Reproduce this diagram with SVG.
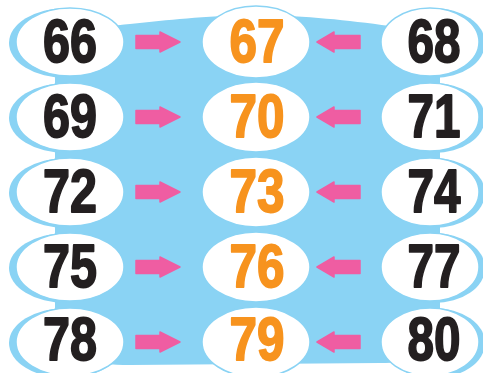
<svg xmlns="http://www.w3.org/2000/svg" width="483" height="373" viewBox="0 0 483 373">
<style>
.bg{fill:#8ad3f4}
.sh{fill:#8ad3f4}
.el{fill:#ffffff;stroke:#8ad3f4;stroke-width:1.5}
.n{font-family:"Liberation Sans",Arial,sans-serif;font-weight:bold;font-size:61px;text-anchor:middle;stroke-width:1.8;stroke-linejoin:round}
.k{fill:#231f20;stroke:#231f20}
.o{fill:#f7931e;stroke:#f7931e}
.ar{fill:#ef5da2;stroke:#ef5da2;stroke-width:1.5;stroke-linejoin:round}
</style>
<defs>
<polygon id="ra" points="136,-6.5 160,-6.5 160,-10 180,0 160,10 160,6.5 136,6.5"/>
<polygon id="la" points="360,-6.5 334,-6.5 334,-10 317,0 334,10 334,6.5 360,6.5"/>
</defs>
<rect width="483" height="373" fill="#ffffff"/>
<path class="bg" d="M55 45 C55 30 100 27 130 24 C170 20 200 16 256 15 C310 16 345 20 390 26 C425 29 440 32 440 48 L440 348 C440 360 410 363 380 363 L130 365 C95 365 55 362 55 350 Z"/>
<g id="n66"><ellipse class="sh" cx="66" cy="43" rx="57" ry="35"/><ellipse class="el" cx="70" cy="42" rx="54" ry="34"/><text class="n k" x="70" y="62" textLength="54" lengthAdjust="spacingAndGlyphs">66</text></g>
<g id="n67"><ellipse class="el" cx="256" cy="42" rx="54" ry="36"/><text class="n o" x="257" y="62" textLength="55" lengthAdjust="spacingAndGlyphs">67</text></g>
<g id="n68"><ellipse class="sh" cx="434" cy="43" rx="51" ry="35"/><ellipse class="el" cx="430" cy="42" rx="49" ry="34"/><text class="n k" x="434" y="62" textLength="53" lengthAdjust="spacingAndGlyphs">68</text></g>
<g id="n69"><ellipse class="sh" cx="66" cy="118" rx="57" ry="35"/><ellipse class="el" cx="70" cy="117" rx="54" ry="34"/><text class="n k" x="70" y="137" textLength="54" lengthAdjust="spacingAndGlyphs">69</text></g>
<g id="n70"><ellipse class="el" cx="256" cy="117" rx="54" ry="35"/><text class="n o" x="257" y="137" textLength="55" lengthAdjust="spacingAndGlyphs">70</text></g>
<g id="n71"><ellipse class="sh" cx="434" cy="118" rx="51" ry="35"/><ellipse class="el" cx="430" cy="117" rx="49" ry="34"/><text class="n k" x="434" y="137" textLength="53" lengthAdjust="spacingAndGlyphs">71</text></g>
<g id="n72"><ellipse class="sh" cx="66" cy="193" rx="57" ry="35"/><ellipse class="el" cx="70" cy="192" rx="54" ry="34"/><text class="n k" x="70" y="212" textLength="54" lengthAdjust="spacingAndGlyphs">72</text></g>
<g id="n73"><ellipse class="el" cx="256" cy="192" rx="54" ry="35"/><text class="n o" x="257" y="212" textLength="55" lengthAdjust="spacingAndGlyphs">73</text></g>
<g id="n74"><ellipse class="sh" cx="434" cy="193" rx="51" ry="35"/><ellipse class="el" cx="430" cy="192" rx="49" ry="34"/><text class="n k" x="434" y="212" textLength="53" lengthAdjust="spacingAndGlyphs">74</text></g>
<g id="n75"><ellipse class="sh" cx="66" cy="268" rx="57" ry="35"/><ellipse class="el" cx="70" cy="267" rx="54" ry="34"/><text class="n k" x="70" y="287" textLength="54" lengthAdjust="spacingAndGlyphs">75</text></g>
<g id="n76"><ellipse class="el" cx="256" cy="267" rx="54" ry="35"/><text class="n o" x="257" y="287" textLength="55" lengthAdjust="spacingAndGlyphs">76</text></g>
<g id="n77"><ellipse class="sh" cx="434" cy="268" rx="51" ry="35"/><ellipse class="el" cx="430" cy="267" rx="49" ry="34"/><text class="n k" x="434" y="287" textLength="53" lengthAdjust="spacingAndGlyphs">77</text></g>
<g id="n78"><ellipse class="sh" cx="66" cy="343" rx="57" ry="35"/><ellipse class="el" cx="70" cy="342" rx="54" ry="34"/><text class="n k" x="70" y="360" textLength="54" lengthAdjust="spacingAndGlyphs">78</text></g>
<g id="n79"><ellipse class="el" cx="256" cy="342" rx="54" ry="35"/><text class="n o" x="257" y="360" textLength="55" lengthAdjust="spacingAndGlyphs">79</text></g>
<g id="n80"><ellipse class="sh" cx="434" cy="343" rx="51" ry="35"/><ellipse class="el" cx="430" cy="342" rx="49" ry="34"/><text class="n k" x="434" y="360" textLength="53" lengthAdjust="spacingAndGlyphs">80</text></g>
<g id="connectors">
<use href="#ra" class="ar" y="42"/><use href="#la" class="ar" y="42"/>
<use href="#ra" class="ar" y="117"/><use href="#la" class="ar" y="117"/>
<use href="#ra" class="ar" y="192"/><use href="#la" class="ar" y="192"/>
<use href="#ra" class="ar" y="267"/><use href="#la" class="ar" y="267"/>
<use href="#ra" class="ar" y="342"/><use href="#la" class="ar" y="342"/>
</g>
</svg>
